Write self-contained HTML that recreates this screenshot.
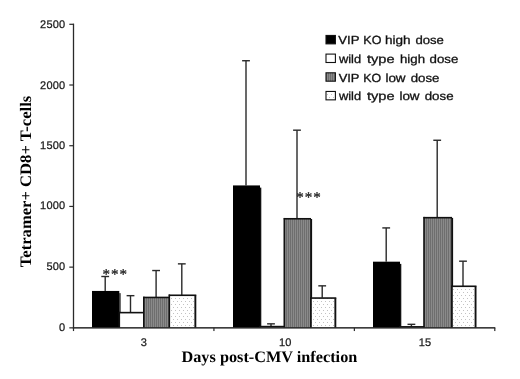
<!DOCTYPE html>
<html><head><meta charset="utf-8"><title>chart</title>
<style>
html,body{margin:0;padding:0;background:#fff;}
body{width:520px;height:379px;overflow:hidden;}
svg{display:block;filter:grayscale(1);}
text{text-rendering:geometricPrecision;}
.tk{font-family:"Liberation Sans",sans-serif;font-size:11px;letter-spacing:0.2px;fill:#1a1a1a;stroke:#1a1a1a;stroke-width:0.25px;}
.lg{font-family:"Liberation Sans",sans-serif;font-size:11.8px;fill:#111;stroke:#111;stroke-width:0.3px;}
.star{font-family:"Liberation Serif",serif;font-size:15px;letter-spacing:0.95px;fill:#222;stroke:#222;stroke-width:0.3px;}
.ttl{font-family:"Liberation Serif",serif;font-weight:bold;font-size:16px;fill:#000;}
</style></head><body>
<svg width="520" height="379" viewBox="0 0 520 379">
<defs>
<pattern id="st" width="2" height="4" patternUnits="userSpaceOnUse"><rect width="2" height="4" fill="#8a8a8a"/><rect width="1" height="4" fill="#6e6e6e"/></pattern>
<pattern id="dt" width="4" height="6" patternUnits="userSpaceOnUse"><rect width="4" height="6" fill="#fff"/><rect x="1" y="1" width="1" height="1" fill="#c2c2c2"/><rect x="3" y="4" width="1" height="1" fill="#c2c2c2"/></pattern>
</defs>
<rect width="520" height="379" fill="#fff"/>
<rect x="104.50" y="276.49" width="1.4" height="14.45" fill="#2a2a2a"/>
<rect x="101.30" y="275.79" width="7.8" height="1.4" fill="#2a2a2a"/>
<rect x="129.80" y="295.67" width="1.4" height="16.76" fill="#2a2a2a"/>
<rect x="126.60" y="294.97" width="7.8" height="1.4" fill="#2a2a2a"/>
<rect x="155.40" y="270.54" width="1.4" height="26.71" fill="#2a2a2a"/>
<rect x="152.20" y="269.84" width="7.8" height="1.4" fill="#2a2a2a"/>
<rect x="181.10" y="263.86" width="1.4" height="31.20" fill="#2a2a2a"/>
<rect x="177.90" y="263.16" width="7.8" height="1.4" fill="#2a2a2a"/>
<rect x="245.30" y="60.73" width="1.4" height="124.70" fill="#2a2a2a"/>
<rect x="242.10" y="60.03" width="7.8" height="1.4" fill="#2a2a2a"/>
<rect x="270.30" y="323.84" width="1.4" height="2.55" fill="#2a2a2a"/>
<rect x="267.10" y="323.14" width="7.8" height="1.4" fill="#2a2a2a"/>
<rect x="296.30" y="130.18" width="1.4" height="88.39" fill="#2a2a2a"/>
<rect x="293.10" y="129.48" width="7.8" height="1.4" fill="#2a2a2a"/>
<rect x="321.50" y="285.84" width="1.4" height="12.02" fill="#2a2a2a"/>
<rect x="318.30" y="285.14" width="7.8" height="1.4" fill="#2a2a2a"/>
<rect x="385.50" y="227.92" width="1.4" height="33.75" fill="#2a2a2a"/>
<rect x="382.30" y="227.22" width="7.8" height="1.4" fill="#2a2a2a"/>
<rect x="410.70" y="324.33" width="1.4" height="2.31" fill="#2a2a2a"/>
<rect x="407.50" y="323.63" width="7.8" height="1.4" fill="#2a2a2a"/>
<rect x="436.50" y="140.26" width="1.4" height="77.22" fill="#2a2a2a"/>
<rect x="433.30" y="139.56" width="7.8" height="1.4" fill="#2a2a2a"/>
<rect x="462.30" y="261.19" width="1.4" height="24.89" fill="#2a2a2a"/>
<rect x="459.10" y="260.49" width="7.8" height="1.4" fill="#2a2a2a"/>
<rect x="92.00" y="290.94" width="27.30" height="36.91" fill="#000"/>
<rect x="119.30" y="293.14" width="1.3" height="34.71" fill="#111"/>
<rect x="119.30" y="312.43" width="24.50" height="15.42" fill="#fff"/>
<rect x="118.80" y="311.83" width="25.00" height="1.6" fill="#111"/>
<rect x="118.50" y="311.83" width="1.6" height="16.02" fill="#111"/>
<rect x="143.80" y="297.25" width="25.50" height="30.60" fill="url(#st)"/>
<rect x="143.30" y="296.65" width="26.00" height="1.6" fill="#111"/>
<rect x="143.00" y="296.65" width="1.6" height="31.20" fill="#111"/>
<rect x="169.30" y="295.07" width="27.00" height="32.78" fill="url(#dt)"/>
<rect x="168.80" y="294.47" width="27.50" height="1.6" fill="#111"/>
<rect x="168.50" y="294.47" width="1.6" height="33.38" fill="#111"/>
<rect x="194.40" y="295.47" width="1.9" height="32.38" fill="#111"/>
<rect x="233.00" y="185.42" width="27.00" height="142.43" fill="#000"/>
<rect x="260.00" y="187.62" width="1.3" height="140.23" fill="#111"/>
<rect x="260.00" y="326.39" width="24.30" height="1.46" fill="#fff"/>
<rect x="259.50" y="325.79" width="24.80" height="1.6" fill="#111"/>
<rect x="259.20" y="325.79" width="1.6" height="2.06" fill="#111"/>
<rect x="284.30" y="218.57" width="26.70" height="109.28" fill="url(#st)"/>
<rect x="283.80" y="217.97" width="27.20" height="1.6" fill="#111"/>
<rect x="283.50" y="217.97" width="1.6" height="109.88" fill="#111"/>
<rect x="310.20" y="218.97" width="1.9" height="108.88" fill="#111"/>
<rect x="311.00" y="297.86" width="25.30" height="29.99" fill="url(#dt)"/>
<rect x="310.50" y="297.26" width="25.80" height="1.6" fill="#111"/>
<rect x="310.20" y="297.26" width="1.6" height="30.59" fill="#111"/>
<rect x="334.40" y="298.26" width="1.9" height="29.59" fill="#111"/>
<rect x="373.00" y="261.68" width="27.00" height="66.17" fill="#000"/>
<rect x="400.00" y="263.88" width="1.3" height="63.97" fill="#111"/>
<rect x="400.00" y="326.64" width="24.00" height="1.21" fill="#fff"/>
<rect x="399.50" y="326.04" width="24.50" height="1.6" fill="#111"/>
<rect x="399.20" y="326.04" width="1.6" height="1.81" fill="#111"/>
<rect x="424.00" y="217.48" width="28.00" height="110.37" fill="url(#st)"/>
<rect x="423.50" y="216.88" width="28.50" height="1.6" fill="#111"/>
<rect x="423.20" y="216.88" width="1.6" height="110.97" fill="#111"/>
<rect x="451.20" y="217.88" width="1.9" height="109.97" fill="#111"/>
<rect x="452.00" y="286.08" width="24.50" height="41.77" fill="url(#dt)"/>
<rect x="451.50" y="285.48" width="25.00" height="1.6" fill="#111"/>
<rect x="451.20" y="285.48" width="1.6" height="42.37" fill="#111"/>
<rect x="474.60" y="286.48" width="1.9" height="41.37" fill="#111"/>
<rect x="72.85" y="23.7" width="1.3" height="304.85" fill="#2a2a2a"/>
<rect x="72.90" y="327.10" width="422.40" height="1.5" fill="#2a2a2a"/>
<rect x="69.3" y="327.25" width="4.5" height="1.2" fill="#2a2a2a"/>
<rect x="69.3" y="266.54" width="4.5" height="1.2" fill="#2a2a2a"/>
<rect x="69.3" y="205.83" width="4.5" height="1.2" fill="#2a2a2a"/>
<rect x="69.3" y="145.12" width="4.5" height="1.2" fill="#2a2a2a"/>
<rect x="69.3" y="84.41" width="4.5" height="1.2" fill="#2a2a2a"/>
<rect x="69.3" y="23.70" width="4.5" height="1.2" fill="#2a2a2a"/>
<rect x="72.90" y="327.85" width="1.2" height="3.2" fill="#2a2a2a"/>
<rect x="213.33" y="327.85" width="1.2" height="3.2" fill="#2a2a2a"/>
<rect x="353.77" y="327.85" width="1.2" height="3.2" fill="#2a2a2a"/>
<rect x="494.20" y="327.85" width="1.2" height="3.2" fill="#2a2a2a"/>
<text x="65.4" y="330.90" text-anchor="end" class="tk">0</text>
<text x="65.4" y="270.09" text-anchor="end" class="tk">500</text>
<text x="65.4" y="209.38" text-anchor="end" class="tk">1000</text>
<text x="65.4" y="149.07" text-anchor="end" class="tk">1500</text>
<text x="65.4" y="88.56" text-anchor="end" class="tk">2000</text>
<text x="65.4" y="28.25" text-anchor="end" class="tk">2500</text>
<text x="143.8" y="345.7" text-anchor="middle" class="tk">3</text>
<text x="285.3" y="345.7" text-anchor="middle" class="tk">10</text>
<text x="425.1" y="345.7" text-anchor="middle" class="tk">15</text>
<rect x="326" y="35.45" width="9.4" height="8.4" fill="#000" stroke="#111" stroke-width="1.1"/>
<text x="338.30" y="44.15" class="lg" textLength="21.20" lengthAdjust="spacingAndGlyphs">VIP</text>
<text x="363.30" y="44.15" class="lg" textLength="18.05" lengthAdjust="spacingAndGlyphs">KO</text>
<text x="385.00" y="44.15" class="lg" textLength="25.60" lengthAdjust="spacingAndGlyphs">high</text>
<text x="415.40" y="44.15" class="lg" textLength="28.50" lengthAdjust="spacingAndGlyphs">dose</text>
<rect x="326" y="54.10" width="9.4" height="8.4" fill="#fff" stroke="#111" stroke-width="1.1"/>
<text x="338.90" y="62.80" class="lg" textLength="22.20" lengthAdjust="spacingAndGlyphs">wild</text>
<text x="367.00" y="62.80" class="lg" textLength="27.60" lengthAdjust="spacingAndGlyphs">type</text>
<text x="400.00" y="62.80" class="lg" textLength="25.00" lengthAdjust="spacingAndGlyphs">high</text>
<text x="429.60" y="62.80" class="lg" textLength="28.80" lengthAdjust="spacingAndGlyphs">dose</text>
<rect x="326" y="72.80" width="9.4" height="8.4" fill="url(#st)" stroke="#111" stroke-width="1.1"/>
<text x="338.65" y="81.50" class="lg" textLength="20.85" lengthAdjust="spacingAndGlyphs">VIP</text>
<text x="363.30" y="81.50" class="lg" textLength="17.90" lengthAdjust="spacingAndGlyphs">KO</text>
<text x="385.40" y="81.50" class="lg" textLength="20.20" lengthAdjust="spacingAndGlyphs">low</text>
<text x="410.70" y="81.50" class="lg" textLength="28.80" lengthAdjust="spacingAndGlyphs">dose</text>
<rect x="326" y="91.45" width="9.4" height="8.4" fill="url(#dt)" stroke="#111" stroke-width="1.1"/>
<text x="338.90" y="100.15" class="lg" textLength="22.20" lengthAdjust="spacingAndGlyphs">wild</text>
<text x="367.00" y="100.15" class="lg" textLength="27.60" lengthAdjust="spacingAndGlyphs">type</text>
<text x="399.40" y="100.15" class="lg" textLength="20.20" lengthAdjust="spacingAndGlyphs">low</text>
<text x="424.70" y="100.15" class="lg" textLength="28.90" lengthAdjust="spacingAndGlyphs">dose</text>
<text x="115.2" y="279.0" text-anchor="middle" class="star">***</text>
<text x="309.0" y="202.4" text-anchor="middle" class="star">***</text>
<text x="269.4" y="361.95" text-anchor="middle" class="ttl" textLength="175.8" lengthAdjust="spacingAndGlyphs">Days post-CMV infection</text>
<text transform="translate(31.2,181.5) rotate(-90)" text-anchor="middle" class="ttl" textLength="171.5" lengthAdjust="spacingAndGlyphs">Tetramer+ CD8+ T-cells</text>
</svg>
</body></html>
